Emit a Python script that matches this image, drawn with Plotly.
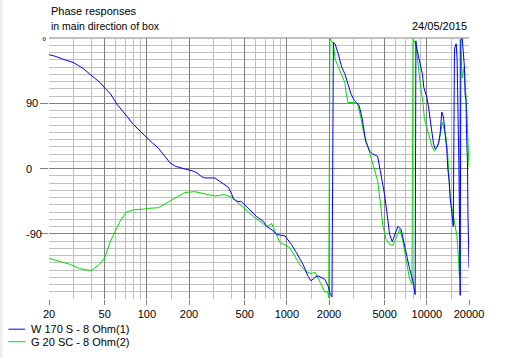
import plotly.graph_objects as go

# ---- data ----
blue_freq = [20, 22, 25, 28, 30, 35, 40, 46, 50, 55, 61, 70, 80, 90, 100, 110, 121, 135, 146, 160,
             172, 190, 210, 228, 245, 260, 306, 352, 382, 405, 416, 439, 474, 512, 556, 605, 680, 718,
             800, 844, 970, 1080, 1170, 1310, 1420, 1490, 1590, 1670, 1870, 1980, 2035, 2100, 2150,
             2210, 2330, 2460, 2590, 2730, 2870, 3030, 3280, 3460, 3650, 3900, 4100, 4450, 4700, 4990,
             5270, 5420, 5660, 5890, 6200, 6550, 6740, 7100, 7500, 7980, 8250, 8350, 8400, 8700, 9000,
             9300, 9510, 10000, 10270, 10560, 10850, 11160, 11470, 11790, 12100, 12440, 12790, 13140,
             13520, 13900, 14120, 14430, 14680, 15090, 15330, 15450, 15750, 16200, 16450, 16700,
             16950, 17150, 17300, 17500, 17900, 18250, 18550, 18750, 19050, 19200, 19500, 19650,
             19800, 20000]
blue_phase = [157, 155, 151, 148, 146, 138, 129, 119, 111, 103, 89, 74, 61, 51, 42, 35, 28, 17, 8, 3,
              1, -1, -3, -6, -11, -13, -13, -22, -26, -36, -42, -45, -46, -52, -59, -66, -73, -80,
              -86, -91, -93, -105, -116, -133, -149, -155, -150, -148, -153, -163, -172, -177, 174,
              172, 158, 140, 131, 117, 103, 94, 87, 68, 38, 24, 20, 17, -8, -36,
              -72, -91, -101, -91, -80, -84, -95, -119, -137, -156, -174, 176, 170, 155, 140,
              130, 112, 98, 85, 66, 48, 34, 27, 29, 34, 48, 78, 71,
              48, 24, -1, -17, -40, -63, -72, -80, 165, 172, 150, 95,
              0, -91, -175, 178, 179, 158, 140, 103, 94, 48, 10, -60,
              -100, -137]

green_freq = [20, 23.3, 28, 33, 40, 46, 50, 54.5, 59.3, 64.6, 71.5, 80, 94.5, 102, 121, 146, 172, 187,
              220, 267, 306, 360, 405, 490, 576, 718, 780, 890, 1050, 1240, 1370, 1490, 1590, 1730,
              1870, 1950, 1990, 2030, 2150, 2210, 2330, 2460, 2590, 2660, 2730, 3030, 3200, 3370,
              3550, 3900, 4200, 4450, 4700, 4830, 5120, 5420, 5730, 6060, 6400, 6740, 7100, 7500,
              7830, 7960, 8350, 8700, 9000, 9400, 9600, 9980, 10270, 10560, 10850, 11320, 11790,
              12240, 12620, 12900, 13290, 13680, 14050, 14290, 14430, 14680, 15090, 15500, 15950,
              16400, 16660, 16820, 17100, 17300, 17900, 18500, 19100, 19400, 19600, 19800, 20000]
green_phase = [-124, -128, -132, -138, -141, -132, -123, -102, -86, -72, -60, -57, -56, -55, -54, -45,
               -38, -33, -32, -35, -38, -36, -40, -54, -66, -80, -76, -102, -109, -133, -142, -145,
               -143, -157, -171, -169, -178, 179, 172, 151, 140, 131, 119, 103, 91, 91, 89, 71,
               48, 22, 1, -17, -54, -77, -98, -105, -106, -96, -84, -100, -128, -151,
               -160, 179, 172, 140, 114, 90, 68, 57, 48, 38, 31, 24, 29,
               38, 57, 64, 54, 43, 24, 1, -24, -42, -54, -65, -79,
               -93, -112, -128, -149, 178, 125, 140, 100, 70, 45, 5, 2]

x_major = [20, 50, 100, 200, 500, 1000, 2000, 5000, 10000, 20000]
x_major_text = ["20", "50", "100", "200", "500", "1000", "2000", "5000", "10000", "20000"]
x_minor = [30, 40, 60, 70, 80, 90, 150, 300, 400, 600, 700, 800, 900, 1500, 3000, 4000,
           6000, 7000, 8000, 9000, 15000]
y_major = [-90, 0, 90]
y_major_text = ["-90", "0", "90"]
y_minor = [v for v in range(-170, 180, 10) if v % 90 != 0]

series_names = ["W 170 S - 8 Ohm(1)", "G 20 SC - 8 Ohm(2)"]
title_lines = ["Phase responses", "in main direction of box"]
date_text = "24/05/2015"

BLUE = "#0000FF"
GREEN = "#00DC00"
MAJOR = "#808080"
MINOR = "#C0C0C0"
FONT = "Liberation Sans, Arial, sans-serif"

W, H = 516, 358
L, R, T, B = 49, 469, 38.3, 299.3


def px_x(px):
    return (px - L) / (R - L)


def px_y(py):
    return (B - py) / (B - T)


fig = go.Figure()
fig.add_trace(go.Scatter(x=green_freq, y=green_phase, mode="lines",
                         line=dict(color=GREEN, width=1), name=series_names[1]))
fig.add_trace(go.Scatter(x=blue_freq, y=blue_phase, mode="lines",
                         line=dict(color=BLUE, width=1), name=series_names[0]))

annotations = []
annotations.append(dict(text=title_lines[0], x=px_x(49), y=px_y(11), xref="paper", yref="paper",
                        xanchor="left", yanchor="middle", showarrow=False,
                        font=dict(size=11, color="black", family=FONT)))
annotations.append(dict(text=title_lines[1], x=px_x(49), y=px_y(26), xref="paper", yref="paper",
                        xanchor="left", yanchor="middle", showarrow=False,
                        font=dict(size=10.5, color="black", family=FONT)))
annotations.append(dict(text=date_text, x=px_x(469), y=px_y(26), xref="paper", yref="paper",
                        xanchor="right", yanchor="middle", showarrow=False,
                        font=dict(size=11, color="black", family=FONT)))
for v, t in zip(y_major, y_major_text):
    annotations.append(dict(text=t, x=px_x(24), y=v, xref="paper", yref="y",
                            xanchor="left", yanchor="middle", showarrow=False,
                            font=dict(size=11, color="black", family=FONT)))
annotations.append(dict(text="°", x=px_x(40), y=180, xref="paper", yref="y",
                        xanchor="left", yanchor="middle", showarrow=False, yshift=-3,
                        font=dict(size=11, color="black", family=FONT)))
legend_rows = [329.5, 342]
legend_colors = [BLUE, GREEN]
shapes = []
for name, yy, col in zip(series_names, legend_rows, legend_colors):
    shapes.append(dict(type="line", xref="paper", yref="paper", x0=px_x(8.5), x1=px_x(25),
                       y0=px_y(yy), y1=px_y(yy), line=dict(color=col, width=1)))
    annotations.append(dict(text=name, x=px_x(29), y=px_y(yy), xref="paper", yref="paper",
                            xanchor="left", yanchor="middle", showarrow=False,
                            font=dict(size=11, color="black", family=FONT)))
shapes.append(dict(type="line", xref="paper", yref="paper", x0=0, x1=1, y0=1, y1=1,
                   line=dict(color=MAJOR, width=1), layer="below"))
shapes.append(dict(type="rect", xref="paper", yref="paper", x0=px_x(0), x1=px_x(2.5),
                   y0=px_y(0), y1=px_y(H), line=dict(width=0), fillcolor="#EEEEEE"))

fig.update_layout(
    width=W, height=H,
    template="none",
    paper_bgcolor="white", plot_bgcolor="white",
    margin=dict(l=L, r=W - R, t=T, b=H - B, pad=0, autoexpand=False),
    showlegend=False,
    hovermode=False,
    font=dict(family=FONT, size=11, color="black"),
    annotations=annotations,
    shapes=shapes,
    xaxis=dict(type="log", range=[1.30103, 4.30103], tickmode="array",
               tickvals=x_major, ticktext=x_major_text,
               showgrid=True, gridcolor=MAJOR, gridwidth=1,
               ticks="outside", ticklen=5, tickcolor=MAJOR, tickwidth=1,
               showline=False, zeroline=False, automargin=False,
               tickfont=dict(size=11, color="black", family=FONT),
               minor=dict(tickmode="array", tickvals=x_minor, showgrid=True,
                          gridcolor=MINOR, gridwidth=1, ticks="")),
    yaxis=dict(range=[-180, 180], tickmode="array", tickvals=y_major,
               showticklabels=False,
               showgrid=True, gridcolor=MAJOR, gridwidth=1,
               ticks="outside", ticklen=8, tickcolor=MAJOR, tickwidth=1,
               showline=False, zeroline=False, automargin=False,
               minor=dict(tickmode="array", tickvals=y_minor, showgrid=True,
                          gridcolor=MINOR, gridwidth=1, ticks="")),
)

fig.write_html("out.html", config={"displayModeBar": False, "staticPlot": True},
               post_script="document.body.style.margin='0';")
